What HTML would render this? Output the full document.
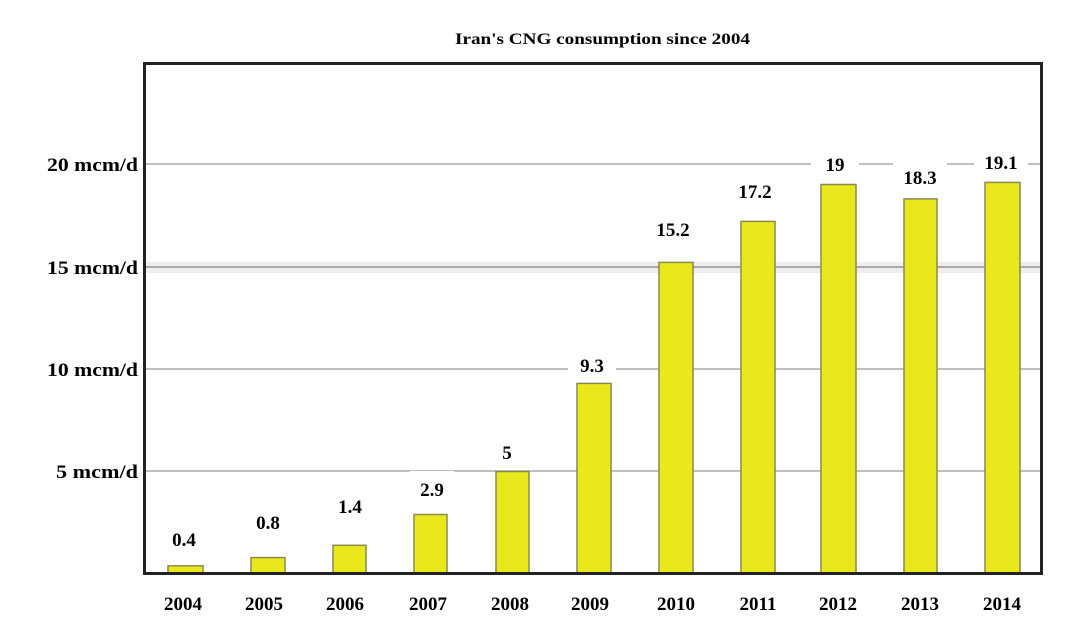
<!DOCTYPE html>
<html><head><style>
body{margin:0;background:#fff;}
svg text{font-family:"Liberation Serif",serif;font-weight:bold;fill:#000;}
</style></head><body>
<svg width="1083" height="619" xmlns="http://www.w3.org/2000/svg">
<rect width="1083" height="619" fill="#fff"/>
<text x="455" y="44" font-size="16" textLength="295" lengthAdjust="spacingAndGlyphs">Iran's CNG consumption since 2004</text>
<g stroke="#aaa" stroke-width="1.5">
<line x1="145" y1="164" x2="1042" y2="164"/>
<line x1="145" y1="471" x2="1042" y2="471"/>
<line x1="145" y1="369" x2="1042" y2="369"/>
</g>
<rect x="145" y="262" width="897" height="11" fill="#eee"/>
<line x1="145" y1="267" x2="1042" y2="267" stroke="#aaa" stroke-width="2"/>
<g font-size="19">
<text x="47" y="171" textLength="91" lengthAdjust="spacingAndGlyphs">20 mcm/d</text>
<text x="47" y="274" textLength="91" lengthAdjust="spacingAndGlyphs">15 mcm/d</text>
<text x="47" y="376" textLength="91" lengthAdjust="spacingAndGlyphs">10 mcm/d</text>
<text x="56" y="478" textLength="82" lengthAdjust="spacingAndGlyphs">5 mcm/d</text>
</g>
<g fill="#e8e81c" stroke="#8a8a50" stroke-width="1.5">
<rect x="168" y="565.8" width="35" height="8.2"/>
<rect x="251" y="557.6" width="34" height="16.4"/>
<rect x="333" y="545.3" width="33" height="28.7"/>
<rect x="414" y="514.5" width="33" height="59.5"/>
<rect x="496" y="471.5" width="33" height="102.5"/>
<rect x="577" y="383.4" width="34" height="190.6"/>
<rect x="659" y="262.4" width="34" height="311.6"/>
<rect x="741" y="221.4" width="34" height="352.6"/>
<rect x="821" y="184.5" width="35" height="389.5"/>
<rect x="904" y="198.9" width="33" height="375.1"/>
<rect x="985" y="182.4" width="35" height="391.6"/>
</g>
<g font-size="19" text-anchor="middle">
<g fill="#fff"><rect x="161" y="524" width="44" height="24"/><rect x="246" y="506" width="44" height="24"/><rect x="328" y="490" width="44" height="24"/><rect x="410" y="471" width="44" height="28"/><rect x="490" y="436" width="34" height="28"/><rect x="568" y="348" width="48" height="26"/><rect x="645" y="215" width="56" height="26"/><rect x="727" y="176" width="56" height="26"/><rect x="811" y="150" width="48" height="26"/><rect x="893" y="162" width="54" height="26"/><rect x="974" y="148" width="54" height="26"/></g>
<text x="184" y="546">0.4</text>
<text x="268" y="529">0.8</text>
<text x="350" y="513">1.4</text>
<text x="432" y="496">2.9</text>
<text x="507" y="459">5</text>
<text x="592" y="372">9.3</text>
<text x="673" y="236">15.2</text>
<text x="755" y="198">17.2</text>
<text x="835" y="171">19</text>
<text x="920" y="184">18.3</text>
<text x="1001" y="169">19.1</text>
</g>
<rect x="144.5" y="63.5" width="897" height="510" fill="none" stroke="#222" stroke-width="3"/>
<g font-size="19" text-anchor="middle">
<text x="183" y="610">2004</text>
<text x="264" y="610">2005</text>
<text x="345" y="610">2006</text>
<text x="428" y="610">2007</text>
<text x="510" y="610">2008</text>
<text x="590" y="610">2009</text>
<text x="676" y="610">2010</text>
<text x="758" y="610">2011</text>
<text x="838" y="610">2012</text>
<text x="920" y="610">2013</text>
<text x="1002" y="610">2014</text>
</g>
</svg>
</body></html>
